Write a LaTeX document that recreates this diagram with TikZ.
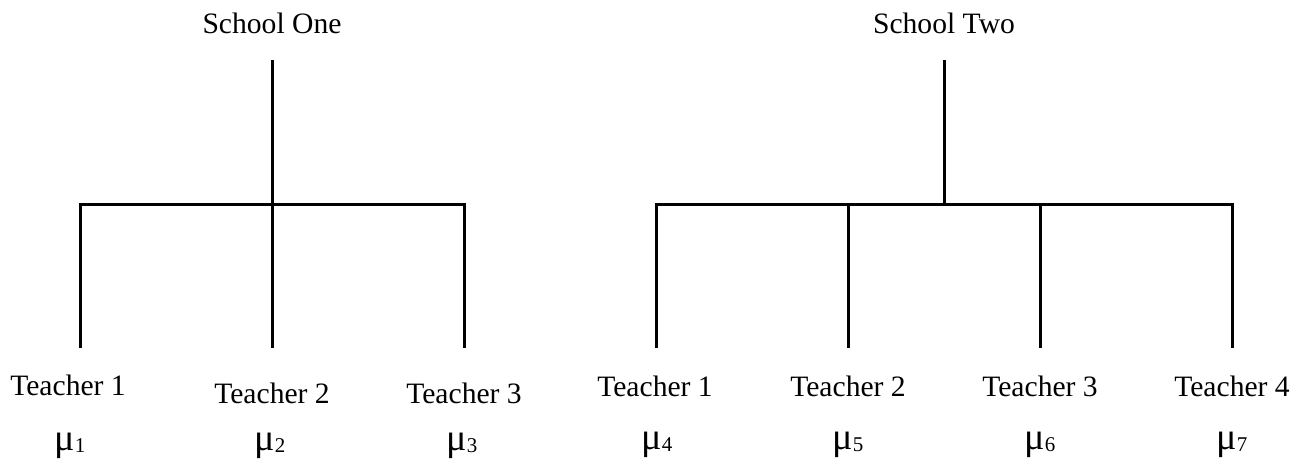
\documentclass[tikz,border=0pt]{standalone}
\usepackage{fontspec}
\setmainfont{Liberation Serif}
\newfontfamily\timesfont{Liberation Serif}
\usetikzlibrary{positioning}

\tikzset{
  lbl/.style={anchor=base, inner sep=0pt, font=\timesfont\fontsize{14.8}{17}\selectfont},
  mu/.style={anchor=base, inner sep=0pt, font=\timesfont\fontsize{19}{20}\selectfont},
  branch/.style={line width=1.5pt}
}

\newcommand{\muidx}[1]{μ\raisebox{-0.15ex}{\fontsize{10.5}{12}\selectfont #1}}

\begin{document}
\begin{tikzpicture}[x=0.5pt, y=-0.5pt]
  \useasboundingbox (0,0) rectangle (1298,462);

  % schools
  \node[lbl] (schoolone) at (272,33) {School One};
  \node[lbl] (schooltwo) at (944,33) {School Two};

  % teachers of school one
  \node[lbl] (ta) at (68,395) {Teacher 1};
  \node[lbl] (tb) at (272,403) {Teacher 2};
  \node[lbl] (tc) at (464,403) {Teacher 3};
  % teachers of school two
  \node[lbl] (td) at (655,396) {Teacher 1};
  \node[lbl] (te) at (848,396) {Teacher 2};
  \node[lbl] (tf) at (1040,396) {Teacher 3};
  \node[lbl] (tg) at (1232,396) {Teacher 4};

  % means
  \node[mu] (ma) at (70,450) {\muidx{1}};
  \node[mu] (mb) at (270,450) {\muidx{2}};
  \node[mu] (mc) at (462,450) {\muidx{3}};
  \node[mu] (md) at (657,449) {\muidx{4}};
  \node[mu] (me) at (848,449) {\muidx{5}};
  \node[mu] (mf) at (1040,449) {\muidx{6}};
  \node[mu] (mg) at (1232,449) {\muidx{7}};

  % junctions
  \coordinate (oneup) at (272,60);
  \coordinate (onebar) at (272,204);
  \coordinate (twoup) at (944,60);
  \coordinate (twobar) at (944,204);

  \coordinate (a1) at (80,204);  \coordinate (a2) at (80,348);
  \coordinate (b1) at (272,204); \coordinate (b2) at (272,348);
  \coordinate (c1) at (464,204); \coordinate (c2) at (464,348);
  \coordinate (d1) at (656,204); \coordinate (d2) at (656,348);
  \coordinate (e1) at (848,204); \coordinate (e2) at (848,348);
  \coordinate (f1) at (1040,204); \coordinate (f2) at (1040,348);
  \coordinate (g1) at (1232,204); \coordinate (g2) at (1232,348);

  % school one
  \draw[branch] (oneup) -- (onebar);
  \draw[branch] (a2) -- (a1) -- (c1) -- (c2);
  \draw[branch] (b1) -- (b2);

  % school two
  \draw[branch] (twoup) -- (twobar);
  \draw[branch] (d2) -- (d1) -- (g1) -- (g2);
  \foreach \k in {e,f}
    \draw[branch] (\k1) -- (\k2);
\end{tikzpicture}
\end{document}
